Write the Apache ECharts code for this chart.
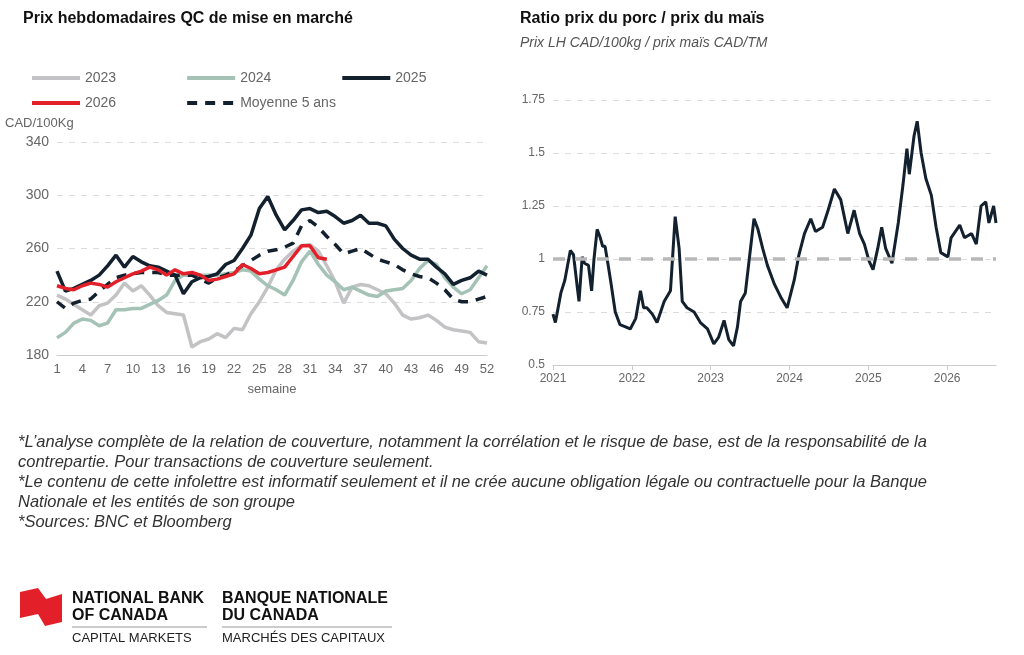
<!DOCTYPE html>
<html><head><meta charset="utf-8">
<script src="https://cdn.jsdelivr.net/npm/echarts@6/dist/echarts.min.js"></script>
<style>html,body{margin:0;padding:0;background:#fff}#c{width:1024px;height:655px}</style>
</head><body><div id="c"></div>
<script>
const weeks = Array.from({length:52},(_,i)=>String(i+1));
const s2023 = [225,222,218,214,210,217,219,225,234,228,232,225,217,212,211,210,186,190,192,196,193,200,199,211,220,231,244,252,258,262,263,258,247,235,219,231,233,232,229,226,219,210,207,208,210,206,201,199,198,197,190,189];
const s2024 = [193,197,204,207,206,202,204,214,214,215,215,218,221,225,236,240,240,240,240,240,241,242,244,243,237,232,229,225,236,250,258,248,240,235,229,231,228,225,224,228,229,230,236,245,251,248,238,231,226,229,238,247];
const s2025 = [243,228,230,233,236,240,247,255,246,254,250,247,246,243,240,226,235,238,239,241,248,251,260,270,290,299,285,274,281,289,290,287,288,284,279,281,285,279,279,277,267,260,255,252,252,246,241,233,236,238,243,240];
const s2026 = [232,230,229,232,234,233,231,235,238,241,243,246,244,240,244,241,242,240,236,237,239,241,248,245,241,242,244,246,254,262,262,253,252];
const avg5 = [220,215,219,221,222,228,233,238,240,241,242,242,242,240,240,240,240,237,234,238,240,243,247,251,255,258,259,261,264,277,281,276,269,263,256,258,260,256,252,250,248,244,241,239,238,234,229,222,220,220,222,224];
const ratioX = [2021.0,2021.03,2021.06,2021.1,2021.15,2021.22,2021.26,2021.31,2021.33,2021.37,2021.40,2021.45,2021.49,2021.52,2021.56,2021.60,2021.63,2021.66,2021.70,2021.73,2021.79,2021.85,2021.92,2021.98,2022.05,2022.11,2022.15,2022.19,2022.26,2022.32,2022.41,2022.49,2022.55,2022.60,2022.64,2022.70,2022.79,2022.87,2022.96,2023.04,2023.10,2023.17,2023.23,2023.29,2023.34,2023.38,2023.44,2023.49,2023.55,2023.60,2023.66,2023.72,2023.81,2023.89,2023.97,2024.06,2024.12,2024.19,2024.27,2024.33,2024.42,2024.49,2024.57,2024.65,2024.74,2024.82,2024.89,2024.95,2025.01,2025.06,2025.12,2025.17,2025.22,2025.30,2025.38,2025.44,2025.49,2025.52,2025.58,2025.62,2025.67,2025.73,2025.80,2025.86,2025.92,2026.01,2026.05,2026.16,2026.22,2026.31,2026.37,2026.43,2026.49,2026.53,2026.59,2026.62];
const ratioY = [0.74,0.70,0.76,0.84,0.90,1.04,1.02,0.86,0.80,1.01,0.98,0.97,0.85,1.00,1.14,1.10,1.06,1.06,0.97,0.90,0.75,0.69,0.68,0.67,0.72,0.85,0.77,0.77,0.74,0.70,0.80,0.85,1.20,1.05,0.80,0.77,0.75,0.70,0.67,0.60,0.63,0.71,0.62,0.59,0.68,0.80,0.84,1.00,1.19,1.14,1.05,0.97,0.88,0.82,0.77,0.90,1.02,1.12,1.19,1.13,1.15,1.23,1.33,1.28,1.12,1.23,1.12,1.07,0.99,0.95,1.05,1.15,1.05,0.98,1.17,1.35,1.52,1.40,1.58,1.65,1.50,1.38,1.30,1.15,1.03,1.01,1.10,1.16,1.10,1.12,1.07,1.25,1.27,1.17,1.25,1.17];

const ch = echarts.init(document.getElementById('c'));
const F = 'Liberation Sans, Arial, sans-serif';
const axLab = {color:'#666',fontSize:13,fontFamily:F};
const grid = {lineStyle:{color:'#dcdcdc',type:[6,6]}};
function ln(name,data,color,dash){return {name,type:'line',data,xAxisIndex:0,yAxisIndex:0,symbol:'none',
 lineStyle:{color,width:3.5,type:dash?[10,8]:'solid'},itemStyle:{color}}}
const lg = {itemWidth:48,itemHeight:4,itemGap:69,itemStyle:{opacity:0},lineStyle:{width:4},textStyle:{fontSize:14,color:'#666'}};
ch.setOption({
 animation:false,
 textStyle:{fontFamily:F},
 title:[
  {text:'Prix hebdomadaires QC de mise en marché',left:18,top:6,textStyle:{fontSize:16,fontWeight:'bold',color:'#111'}},
  {text:'Ratio prix du porc / prix du maïs',left:515,top:6,textStyle:{fontSize:16,fontWeight:'bold',color:'#111'},
   subtext:'Prix LH CAD/100kg / prix maïs CAD/TM',subtextStyle:{fontSize:14,fontStyle:'italic',color:'#555'},itemGap:9}
 ],
 legend:[
  {...lg,data:['2023','2024','2025'],left:25,top:66},
  {...lg,data:['2026','Moyenne 5 ans'],left:25,top:91}
 ],
 grid:[{left:57,top:142,width:430,height:213},{left:553,top:100,width:443,height:265}],
 xAxis:[
  {type:'category',gridIndex:0,data:weeks,boundaryGap:false,name:'semaine',nameLocation:'middle',nameGap:28,nameTextStyle:axLab,
   axisLine:{lineStyle:{color:'#ccc'}},axisTick:{show:false},axisLabel:{...axLab,interval:2}},
  {type:'value',gridIndex:1,min:2021,max:2026.62,interval:1,splitLine:{show:false},
   axisLine:{lineStyle:{color:'#ccc'}},axisTick:{show:true,lineStyle:{color:'#ccc'}},
   axisLabel:{...axLab,fontSize:12,formatter:v=>Number.isInteger(v)?String(v):'',showMaxLabel:false}}
 ],
 yAxis:[
  {type:'value',gridIndex:0,min:180,max:340,interval:40,name:'CAD/100Kg',nameLocation:'end',nameGap:12,
   nameTextStyle:{...axLab,align:'left',padding:[0,0,0,-52]},axisLine:{show:false},axisTick:{show:false},axisLabel:{...axLab,fontSize:14},splitLine:grid},
  {type:'value',gridIndex:1,min:0.5,max:1.75,interval:0.25,axisLine:{show:false},axisTick:{show:false},axisLabel:{...axLab,fontSize:12},splitLine:grid}
 ],
 series:[
  ln('2023',s2023,'#c3c3c5'),
  ln('2024',s2024,'#a4c2b5'),
  ln('Moyenne 5 ans',avg5,'#13212f',true),
  ln('2025',s2025,'#13212f'),
  ln('2026',s2026,'#e3202a'),
  {type:'line',xAxisIndex:1,yAxisIndex:1,data:ratioX.map((x,i)=>[x,ratioY[i]]),symbol:'none',
   lineStyle:{color:'#13212f',width:3},
   markLine:{silent:true,symbol:'none',label:{show:false},lineStyle:{color:'#b8b8b8',width:3.5,type:[12,10]},data:[{yAxis:1}]},z:1}
 ],
 graphic:[
  {type:'text',left:18,top:432,style:{text:"*L’analyse complète de la relation de couverture, notamment la corrélation et le risque de base, est de la responsabilité de la\ncontrepartie. Pour transactions de couverture seulement.\n*Le contenu de cette infolettre est informatif seulement et il ne crée aucune obligation légale ou contractuelle pour la Banque\nNationale et les entités de son groupe\n*Sources: BNC et Bloomberg",
   font:'italic 16.5px '+F,fill:'#333',lineHeight:20}},
  {type:'polygon',shape:{points:[[20,592],[38,588],[46,599],[62,594],[62,622],[45,626],[38,614],[20,618]]},style:{fill:'#e3202a'}},
  {type:'text',left:72,top:590,style:{text:'NATIONAL BANK\nOF CANADA',font:'bold 16px '+F,fill:'#111',lineHeight:17}},
  {type:'text',left:222,top:590,style:{text:'BANQUE NATIONALE\nDU CANADA',font:'bold 16px '+F,fill:'#111',lineHeight:17}},
  {type:'line',shape:{x1:72,y1:627,x2:207,y2:627},style:{stroke:'#999',lineWidth:1}},
  {type:'line',shape:{x1:222,y1:627,x2:392,y2:627},style:{stroke:'#999',lineWidth:1}},
  {type:'text',left:72,top:632,style:{text:'CAPITAL MARKETS',font:'13px '+F,fill:'#222'}},
  {type:'text',left:222,top:632,style:{text:'MARCHÉS DES CAPITAUX',font:'13px '+F,fill:'#222'}}
 ]
});
</script></body></html>
